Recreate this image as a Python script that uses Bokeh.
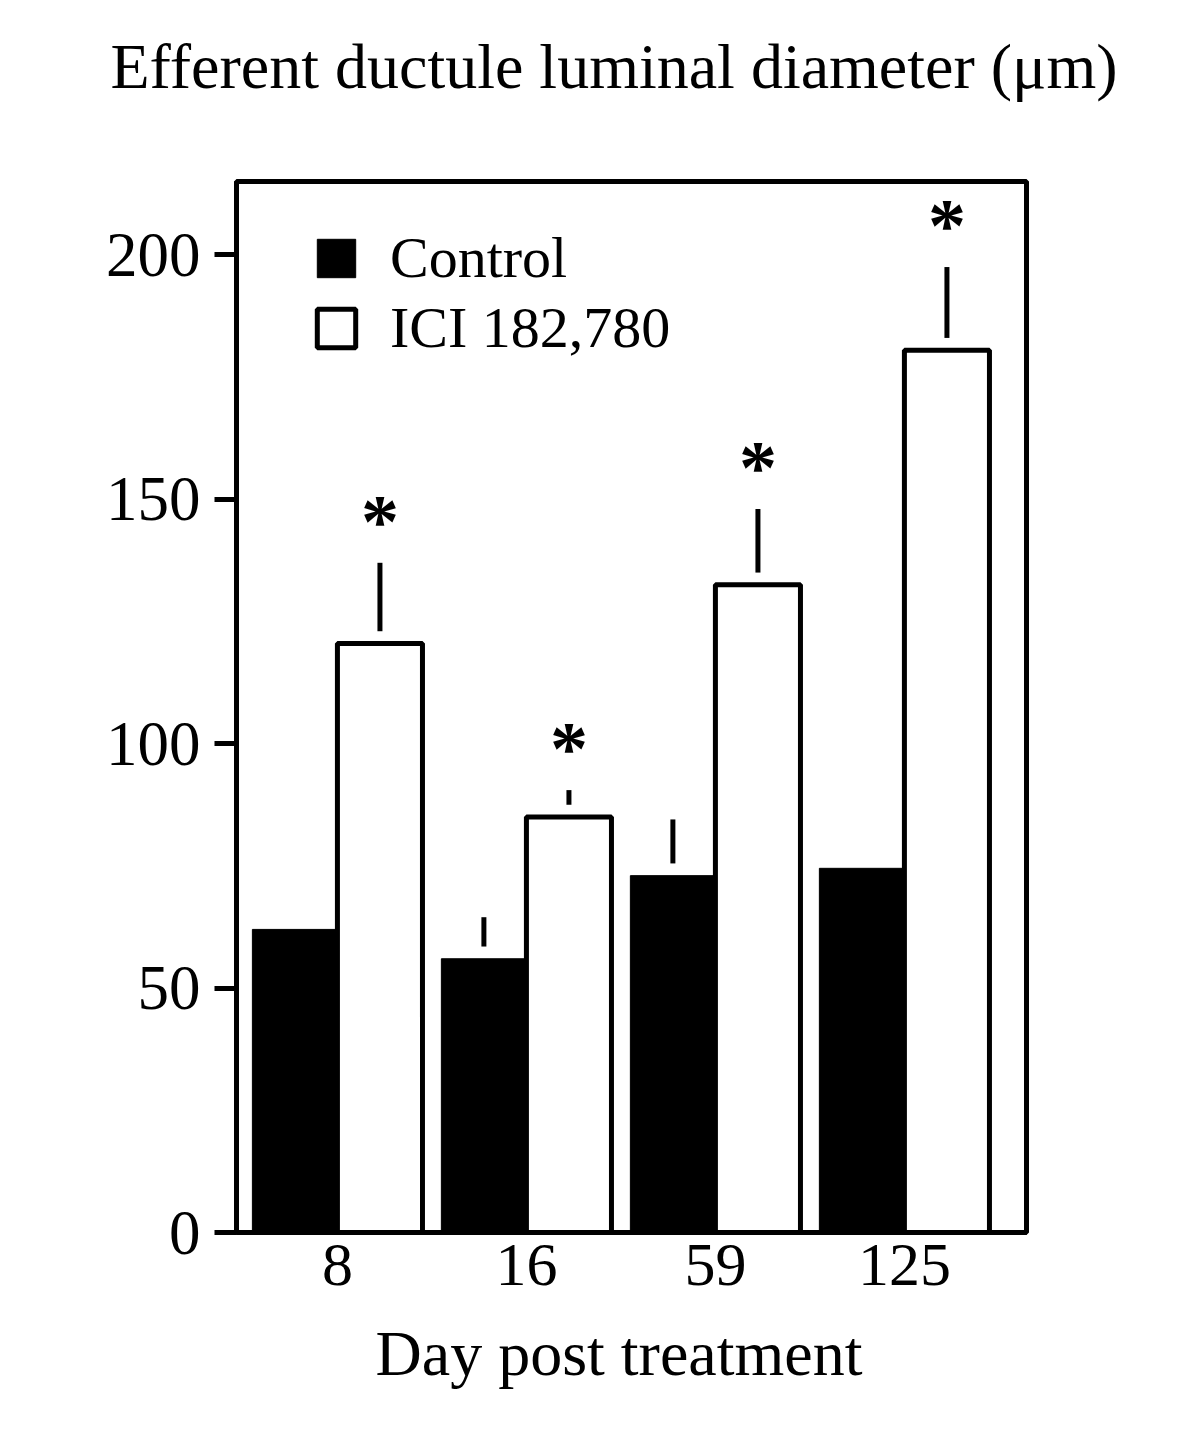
import numpy as np
from bokeh.plotting import figure
from bokeh.models import (Range1d, FixedTicker, Legend, LegendItem, ColumnDataSource, Title)
from bokeh.core.properties import value
from bokeh.embed import file_html
from bokeh.resources import INLINE

# ---- data ----
days = ["8", "16", "59", "125"]
control_mean = [62.0, 56.0, 73.0, 74.5]
control_se = [np.nan, 8.5, 11.5, np.nan]
ici_mean = [120.5, 85.0, 132.5, 180.5]
ici_se = [16.5, 5.5, 15.5, 17.0]
significant = [True, True, True, True]
y_ticks = [0, 50, 100, 150, 200]
title_text = "Efferent ductule luminal diameter (μm)"
x_label = "Day post treatment"

FONT = "Liberation Serif"
BW = 0.45
GAP = 2.5
LW = 5

x = np.arange(1, len(days) + 1, dtype=float)
xc = x - BW / 2
xi = x + BW / 2

p = figure(width=1183, height=1422, output_backend="svg", toolbar_location=None,
           x_range=Range1d(0.466, 4.646), y_range=Range1d(0, 215),
           min_border_left=236, min_border_right=157, min_border_top=181, min_border_bottom=190)
p.title.text = ""
p.title.visible = False
# spacer panel between frame and title, then the title itself
p.add_layout(Title(text=" ", text_font_size="1px", standoff=77), "above")
p.add_layout(Title(text=title_text, align="left", vertical_align="bottom",
                   text_font=FONT, text_font_size="64px", text_font_style="normal",
                   text_color="black", standoff=0, offset=-126), "above")
# spacer below the x axis, then the x axis title
p.add_layout(Title(text=" ", text_font_size="1px", standoff=27), "below")
p.add_layout(Title(text=x_label, align="left", vertical_align="top",
                   text_font=FONT, text_font_size="64px", text_font_style="normal",
                   text_color="black", standoff=0, offset=139), "below")

p.grid.visible = False
p.background_fill_color = "white"
p.border_fill_color = "white"
p.outline_line_color = "black"
p.outline_line_width = LW

src_c = ColumnDataSource(dict(x=xc, top=control_mean))
src_i = ColumnDataSource(dict(x=xi, top=ici_mean))
r_c = p.vbar(x="x", top="top", bottom=0, width=BW, source=src_c,
             fill_color="black", line_color="black", line_width=1)
r_i = p.vbar(x="x", top="top", bottom=0, width=BW, source=src_i,
             fill_color="white", line_color="black", line_width=LW)

# error bars (upper only)
ex, ey0, ey1 = [], [], []
for xs, m, s in [(xc, control_mean, control_se), (xi, ici_mean, ici_se)]:
    for xx, mm, ss in zip(xs, m, s):
        if not np.isnan(ss):
            ex.append(xx); ey0.append(mm + GAP); ey1.append(mm + ss)
p.segment(x0=ex, y0=ey0, x1=ex, y1=ey1, line_color="black", line_width=LW)

# asterisks
ax = [xx for xx, sg in zip(xi, significant) if sg]
ay = [m + s for m, s, sg in zip(ici_mean, ici_se, significant) if sg]
p.text(x=ax, y=ay, text=["*"] * len(ax), text_align="center", text_baseline="bottom",
       text_font=value(FONT), text_font_size="76px", text_font_style="bold",
       text_color="black", y_offset=0)

# axes
p.xaxis.ticker = FixedTicker(ticks=list(x))
p.xaxis.major_label_overrides = {float(v): d for v, d in zip(x, days)}
p.xaxis.major_label_overrides.update({int(v): d for v, d in zip(x, days)})
p.xaxis.major_tick_line_color = None
p.xaxis.minor_tick_line_color = None
p.xaxis.axis_line_width = LW
p.xaxis.major_label_text_font = FONT
p.xaxis.major_label_text_font_size = "62px"
p.xaxis.major_label_text_color = "black"
p.xaxis.major_label_standoff = 6

p.yaxis.ticker = FixedTicker(ticks=y_ticks)
p.yaxis.minor_tick_line_color = None
p.yaxis.major_tick_out = 22
p.yaxis.major_tick_in = 0
p.yaxis.major_tick_line_width = LW
p.yaxis.axis_line_width = LW
p.yaxis.major_label_text_font = FONT
p.yaxis.major_label_text_font_size = "63px"
p.yaxis.major_label_text_color = "black"
p.yaxis.major_label_standoff = 14

legend = Legend(items=[LegendItem(label="Control", renderers=[r_c]),
                       LegendItem(label="ICI 182,780", renderers=[r_i])],
                location=(76, 871), orientation="vertical",
                glyph_width=48, glyph_height=48, label_height=48,
                label_text_font=FONT, label_text_font_size="58px", label_text_color="black",
                label_standoff=30, spacing=3, padding=0, margin=0,
                border_line_color=None, background_fill_alpha=0)
p.add_layout(legend, "center")

open("out.html", "w").write(file_html(p, INLINE))
